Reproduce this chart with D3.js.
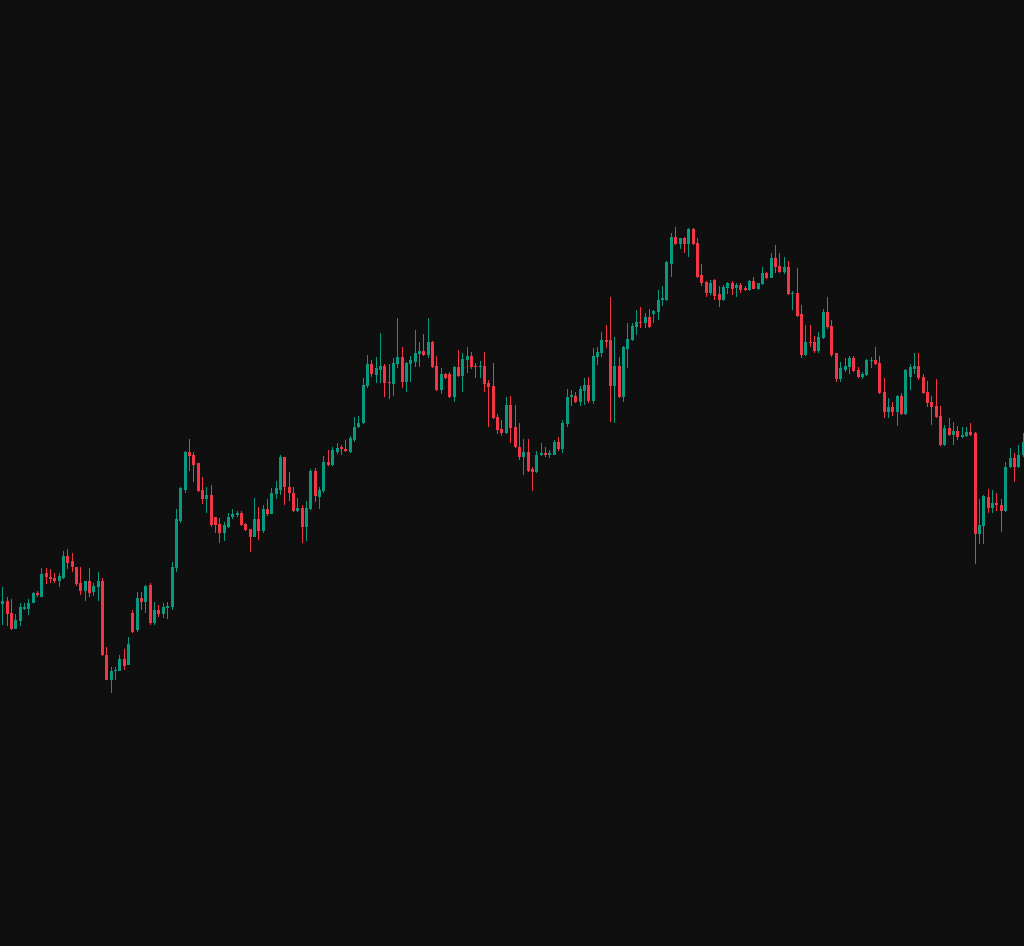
<!DOCTYPE html>
<html>
<head>
<meta charset="utf-8">
<script src="https://cdn.jsdelivr.net/npm/d3@7"></script>
<style>
html,body{margin:0;padding:0;background:#0f0f0f;overflow:hidden;}
svg{display:block;}
</style>
</head>
<body>
<div id="chart"></div>
<script>
const openVals = [
39.6,39.9,38.7,37.1,37.9,39.1,39.1,39.7,40.7,40.3,
42.7,42.3,42.2,41.9,42.2,44.4,43.9,43.3,41.7,40.9,
41.9,40.8,41.3,41.9,34.5,32.0,32.9,32.9,34.1,33.5,
38.7,37.0,40.2,39.8,41.5,37.7,39.0,38.6,39.2,39.3,
43.2,47.9,51.0,54.8,54.5,53.7,51.0,50.1,50.5,48.3,
47.6,46.7,47.3,48.3,48.5,48.7,47.6,47.1,46.3,48.1,
46.9,49.1,48.6,50.6,51.0,54.3,51.3,50.7,48.9,49.2,
47.3,49.1,52.9,50.3,50.9,53.8,53.5,54.8,55.3,55.1,
54.8,56.0,57.3,57.7,61.4,63.6,62.5,63.0,63.4,61.8,
61.6,63.6,64.3,61.8,63.6,63.8,64.6,64.9,64.5,65.8,
63.4,61.0,62.6,62.6,60.3,63.3,62.4,64.0,64.4,63.4,
63.3,63.4,61.7,61.4,58.3,57.1,56.7,59.5,57.3,55.3,
54.3,54.8,53.1,52.8,54.5,54.7,54.5,54.5,55.8,55.1,
57.6,60.3,60.4,59.8,60.9,61.5,59.9,64.3,64.7,66.0,
66.0,61.4,63.4,60.3,65.1,66.0,67.3,67.8,67.7,68.3,
68.6,68.8,70.0,70.0,73.6,76.3,75.6,76.2,75.6,77.1,
75.7,72.5,71.8,70.7,72.0,70.6,70.0,71.2,71.7,71.2,
71.5,71.2,71.0,71.9,71.1,71.6,72.7,72.2,74.2,73.4,
72.8,73.3,70.6,70.7,68.6,64.5,65.8,65.8,64.9,66.2,
68.8,67.4,64.7,62.1,63.0,63.3,64.2,63.0,62.3,62.5,
63.9,64.0,63.7,60.8,58.8,59.3,58.8,60.4,58.6,62.3,
63.1,63.4,62.3,60.8,59.8,59.4,58.4,55.5,57.2,56.5,
56.9,56.3,56.4,56.8,56.7,46.6,47.4,50.3,49.2,49.7,
49.5,48.9,53.3,54.2,53.3,54.5
];
const highVals = [
41.3,40.3,40.1,38.6,39.7,39.7,40.1,40.8,40.9,43.2,
43.2,43.1,42.7,42.7,44.9,45.1,44.7,43.3,43.3,41.9,
43.2,41.7,42.8,42.2,35.3,33.3,33.3,34.5,35.1,36.3,
39.0,40.8,40.8,41.5,41.7,39.8,39.5,39.7,39.8,43.8,
49.1,51.3,54.9,56.1,54.8,53.7,52.3,51.3,51.5,48.3,
48.2,47.8,48.7,49.1,48.9,48.9,47.7,47.1,50.2,49.3,
49.5,50.1,51.2,51.9,54.5,54.3,52.8,51.3,50.2,49.5,
49.9,53.1,53.2,51.3,54.4,55.0,55.3,55.7,55.5,56.0,
56.4,58.3,58.4,62.2,64.5,64.0,64.3,66.7,63.6,63.6,
64.2,68.2,65.3,63.8,64.4,67.0,65.8,66.6,68.2,65.9,
64.4,63.2,62.7,62.8,63.4,65.0,64.7,65.3,64.8,63.7,
63.9,64.8,62.0,63.7,58.6,58.0,60.3,60.4,59.5,57.7,
56.1,56.1,53.3,54.9,55.7,55.3,55.0,56.0,56.3,58.0,
61.1,61.0,60.8,61.4,62.2,62.3,65.2,65.3,66.8,67.5,
70.3,66.3,64.3,65.4,67.7,67.7,69.0,69.3,68.7,69.1,
69.0,71.0,71.4,73.9,76.7,77.3,76.2,76.3,77.2,77.2,
76.2,73.6,71.9,72.0,72.1,71.4,71.5,71.8,71.9,71.7,
71.7,71.4,72.0,72.3,71.7,73.3,72.8,74.7,75.5,74.7,
74.3,73.9,70.9,73.2,69.5,67.5,67.5,66.4,66.8,69.1,
70.3,68.0,64.7,63.8,64.2,64.4,64.4,63.3,62.8,64.1,
64.3,65.3,64.4,62.2,60.2,59.8,60.5,60.7,63.1,63.6,
64.7,64.7,62.6,61.9,60.4,62.1,59.4,57.5,58.2,57.8,
57.4,57.3,57.3,57.7,56.8,50.1,50.5,51.1,51.0,50.7,
50.1,53.8,55.2,54.7,55.5,56.7
];
const lowVals = [
37.5,37.4,37.0,37.1,37.4,39.0,38.5,39.7,40.3,40.3,
41.6,41.7,41.7,41.3,42.1,43.1,42.8,41.4,40.5,39.9,
40.3,40.4,39.9,34.4,32.0,30.7,32.0,32.9,33.0,33.5,
36.7,36.8,39.0,38.7,37.5,37.5,38.3,38.2,38.1,39.0,
42.8,47.7,50.7,52.9,51.8,50.8,49.6,48.7,47.3,46.7,
45.7,45.9,47.2,48.1,48.3,47.4,46.9,44.8,46.3,46.0,
46.7,48.4,48.6,50.1,50.5,49.5,49.9,48.8,48.8,45.7,
45.9,49.0,49.8,49.1,50.7,53.4,53.4,54.6,54.5,54.8,
54.7,55.8,57.2,57.6,61.2,62.3,61.7,61.7,60.3,60.1,
60.4,63.2,61.2,60.8,61.8,63.3,63.3,64.4,64.2,63.2,
60.9,60.6,62.1,60.2,59.8,62.3,60.8,62.7,63.1,62.2,
62.2,60.8,57.3,58.1,56.6,56.4,56.6,55.7,55.2,54.0,
52.5,52.8,50.9,52.7,54.4,54.3,54.2,54.5,54.9,54.7,
57.3,59.4,59.7,59.4,59.5,59.7,59.6,63.5,64.3,65.2,
57.8,57.7,60.2,59.8,63.2,65.9,66.5,67.2,67.2,67.2,
67.7,68.0,69.4,69.9,72.3,75.5,75.1,74.7,74.3,75.5,
72.2,71.4,70.3,70.5,70.0,69.3,69.9,70.6,70.5,70.3,
70.7,70.9,70.9,71.1,71.0,71.5,72.1,72.2,72.7,72.7,
72.6,70.5,69.0,68.3,64.2,64.4,65.3,64.7,64.7,66.1,
67.1,64.3,61.8,61.8,62.8,62.6,62.8,62.2,62.1,62.4,
63.2,63.5,60.6,58.2,58.2,58.4,57.4,58.5,58.5,61.0,
62.6,62.0,60.6,59.3,57.5,58.2,55.4,55.4,56.4,55.5,
56.0,56.2,56.3,56.4,43.6,45.6,45.6,48.7,48.7,48.9,
46.8,48.8,53.2,51.8,53.2,54.3
];
const closeVals = [
39.9,38.6,37.1,38.0,39.3,39.3,39.7,40.7,40.5,42.6,
42.3,42.1,41.9,42.4,44.4,43.7,43.3,41.6,40.9,41.9,
40.7,41.4,41.9,34.5,32.0,32.9,33.0,34.1,33.4,35.6,
36.8,40.2,39.8,41.4,37.7,39.0,38.6,39.3,39.4,43.3,
48.1,51.2,54.8,54.4,53.5,50.9,50.1,50.5,47.5,47.5,
46.7,47.5,48.3,48.6,48.7,47.5,47.0,46.3,48.1,46.9,
49.1,48.6,50.7,51.2,54.3,51.3,50.7,48.9,49.2,47.3,
49.2,52.9,50.4,51.0,53.8,53.5,55.0,55.2,55.1,54.9,
56.2,57.3,57.7,61.5,63.6,62.6,63.2,63.4,61.7,61.7,
63.7,64.3,61.8,63.7,64.0,64.7,64.9,64.5,65.8,63.3,
61.0,62.6,62.2,60.3,63.3,62.4,64.1,64.4,63.3,63.3,
63.4,61.6,61.3,58.2,57.0,56.7,59.5,57.2,55.3,54.3,
54.8,52.9,52.8,54.5,54.7,54.5,54.7,55.8,55.1,57.7,
60.3,60.5,59.8,61.1,61.5,59.9,64.4,64.8,66.0,65.8,
61.4,63.4,60.3,65.3,66.1,67.4,67.8,67.7,68.3,67.3,
68.9,70.0,70.2,73.8,76.3,75.6,76.2,75.6,77.1,75.6,
72.3,71.7,70.7,71.7,70.4,70.0,71.3,71.7,71.1,71.5,
71.0,71.0,71.9,71.1,71.7,72.7,72.2,74.2,73.3,72.8,
73.3,70.6,70.7,68.4,64.5,65.8,65.7,64.9,66.3,68.8,
67.3,64.5,62.1,63.2,63.4,64.2,62.9,62.3,62.6,64.0,
64.0,63.6,60.7,58.8,59.3,58.8,60.4,58.6,63.0,63.3,
63.4,62.2,60.7,59.7,59.3,58.3,55.5,57.2,56.5,56.9,
56.3,56.5,56.8,56.5,46.6,47.5,50.4,49.2,49.7,49.5,
48.9,53.3,54.2,53.3,54.5,55.8
];

const W = 1024, H = 946;
const upColor = "#089981", downColor = "#f23645", bgColor = "#0f0f0f";

const candles = openVals.map((o, i) => ({
  i, open: o, high: highVals[i], low: lowVals[i], close: closeVals[i]
}));

const x = d3.scaleBand()
  .domain(candles.map(d => d.i))
  .range([0.5, 1025.2])
  .padding(0);

const y = d3.scaleLinear().domain([5.4, 100]).range([H, 0]);

const svg = d3.select("#chart").append("svg")
  .attr("width", W).attr("height", H)
  .style("background", bgColor);

svg.append("rect").attr("width", W).attr("height", H).attr("fill", bgColor);

const g = svg.append("g").attr("shape-rendering", "crispEdges");

const cx = d => Math.round(x(d.i) + x.bandwidth() / 2 - 0.5);
const col = d => d.close >= d.open ? upColor : downColor;

g.selectAll("rect.wick").data(candles).join("rect")
  .attr("class", "wick")
  .attr("x", d => cx(d))
  .attr("width", 1)
  .attr("y", d => Math.round(y(d.high)))
  .attr("height", d => Math.max(1, Math.round(y(d.low)) - Math.round(y(d.high))))
  .attr("fill", col);

g.selectAll("rect.body").data(candles).join("rect")
  .attr("class", "body")
  .attr("x", d => cx(d) - 1)
  .attr("width", 3)
  .attr("y", d => Math.round(y(Math.max(d.open, d.close))))
  .attr("height", d => Math.max(1, Math.round(y(Math.min(d.open, d.close))) - Math.round(y(Math.max(d.open, d.close)))))
  .attr("fill", col);
</script>
</body>
</html>
